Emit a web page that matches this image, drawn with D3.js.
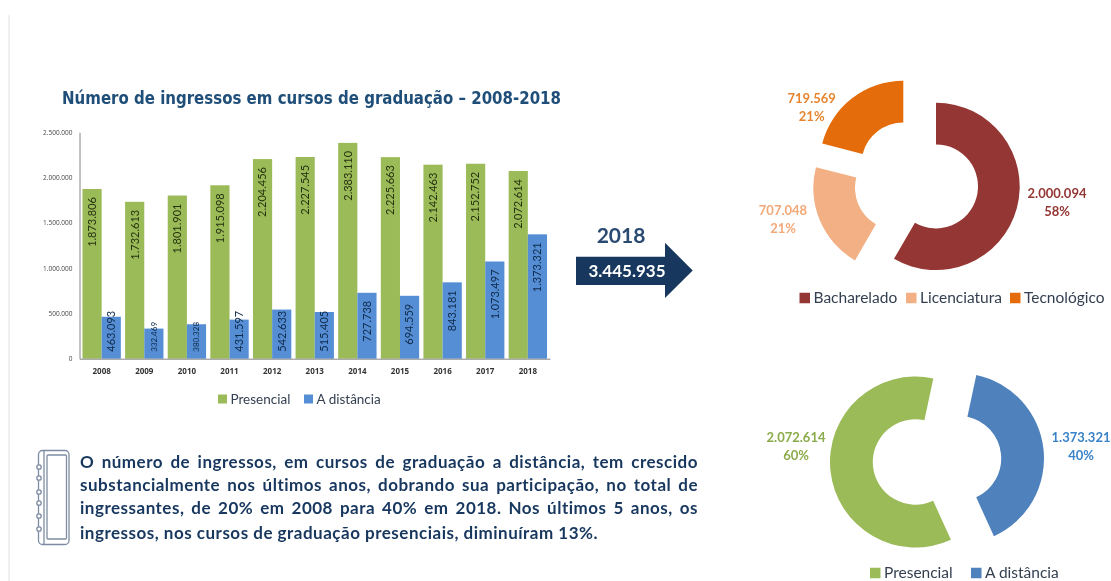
<!DOCTYPE html>
<html>
<head>
<meta charset="utf-8">
<script src="https://cdn.jsdelivr.net/npm/d3@7"></script>
<style>
html, body { margin: 0; padding: 0; background: #fff; }
svg { display: block; filter: blur(0.35px); }
text { font-family: Lato, "Open Sans", sans-serif; }
</style>
</head>
<body>
<svg id="box1" width="1111" height="581"></svg>
<script>
var years = ["2008","2009","2010","2011","2012","2013","2014","2015","2016","2017","2018"];
var presencial = [1873806,1732613,1801901,1915098,2204456,2227545,2383110,2225663,2142463,2152752,2072614];
var distancia = [463093,332469,380328,431597,542633,515405,727738,694559,843181,1073497,1373321];
var yTicks = [0,500000,1000000,1500000,2000000,2500000];
var seriesNames = ["Presencial","A distância"];

var tipoNames = ["Bacharelado","Licenciatura","Tecnológico"];
var tipoValues = [2000094,707048,719569];
var modoNames = ["Presencial","A distância"];
var modoValues = [2072614,1373321];
var totalLabel = "3.445.935";

var textLines = [
  "O número de ingressos, em cursos de graduação a distância, tem crescido",
  "substancialmente nos últimos anos, dobrando sua participação, no total de",
  "ingressantes, de 20% em 2008 para 40% em 2018. Nos últimos 5 anos, os",
  "ingressos, nos cursos de graduação presenciais, diminuíram 13%."
];

var svg = d3.select("#box1");
var navy = "#1f4e79", dark = "#17375e";
var green = "#9bbb59", blue = "#558ed5";
var ptBR = d3.formatLocale({decimal: ",", thousands: ".", grouping: [3], currency: ["R$",""]});
var num = ptBR.format(",d");

svg.append("line").attr("x1", 9).attr("x2", 9).attr("y1", 15).attr("y2", 581)
  .attr("stroke", "#f0f0f0").attr("stroke-width", 2);

// title
svg.append("text")
  .attr("x", 62).attr("y", 104)
  .attr("textLength", 499).attr("lengthAdjust", "spacingAndGlyphs")
  .style("font-family", "'DejaVu Sans'").style("font-weight", "bold").style("font-size", "17.5px")
  .attr("fill", navy)
  .text("Número de ingressos em cursos de graduação – 2008-2018");

// bar chart
var x = d3.scaleBand().domain(years).range([79.5, 550]).paddingInner(0.1).paddingOuter(0.07);
var y = d3.scaleLinear().domain([0, 2500000]).range([358.7, 132.3]);
var inner = d3.scaleBand().domain(seriesNames).range([0, x.bandwidth()]);

var yAxis = d3.axisLeft(y).tickValues(yTicks).tickFormat(num).tickSize(0).tickPadding(7);
var gy = svg.append("g").attr("transform", "translate(79.5,0)").call(yAxis);
gy.select(".domain").attr("stroke", "#868686");
gy.selectAll("text").style("font-size", "6.5px").style("font-family", "'Open Sans'").attr("fill", "#444");

svg.selectAll(".b1").data(years).enter().append("rect")
  .attr("class", "b1")
  .attr("x", function(d) { return x(d) + inner(seriesNames[0]); })
  .attr("width", inner.bandwidth())
  .attr("y", function(d, i) { return y(presencial[i]); })
  .attr("height", function(d, i) { return y(0) - y(presencial[i]); })
  .attr("fill", green);

svg.selectAll(".b2").data(years).enter().append("rect")
  .attr("class", "b2")
  .attr("x", function(d) { return x(d) + inner(seriesNames[1]); })
  .attr("width", inner.bandwidth())
  .attr("y", function(d, i) { return y(distancia[i]); })
  .attr("height", function(d, i) { return y(0) - y(distancia[i]); })
  .attr("fill", blue);

var xAxis = d3.axisBottom(x).tickSize(0).tickPadding(10);
var gx = svg.append("g").attr("transform", "translate(0,358.7)").call(xAxis);
gx.select(".domain").attr("stroke", "#868686");
gx.selectAll("text").style("font-size", "8px").style("font-weight", "bold")
  .style("font-family", "'Open Sans'").attr("fill", "#333");

svg.selectAll(".l1").data(years).enter().append("text")
  .attr("class", "l1")
  .attr("transform", function(d, i) {
    return "translate(" + (x(d) + inner.bandwidth() / 2) + "," + (y(presencial[i]) + 8) + ") rotate(-90)";
  })
  .attr("text-anchor", "end").attr("dy", "0.35em")
  .style("font-size", "11px").attr("fill", "#26330f")
  .text(function(d, i) { return num(presencial[i]); });

svg.selectAll(".l2").data(years).enter().append("text")
  .attr("class", "l2")
  .attr("transform", function(d, i) {
    var cx = x(d) + inner(seriesNames[1]) + inner.bandwidth() / 2;
    // short bars keep the label at the base, tall ones at the top
    var py = distancia[i] < 600000 ? y(0) - 7 : y(distancia[i]) + 8;
    return "translate(" + cx + "," + py + ") rotate(-90)";
  })
  .attr("text-anchor", function(d, i) { return distancia[i] < 600000 ? "start" : "end"; })
  .attr("dy", "0.35em")
  .style("font-size", function(d, i) { return distancia[i] < 400000 ? "8px" : "11px"; })
  .attr("fill", "#0f2a4a")
  .text(function(d, i) { return num(distancia[i]); });

function legend(items, colors, xs, ly, size, fs) {
  items.forEach(function(name, i) {
    svg.append("rect").attr("x", xs[i]).attr("y", ly - size / 2).attr("width", size).attr("height", size)
      .attr("fill", colors[i]);
    svg.append("text").attr("x", xs[i] + size + 3.5).attr("y", ly).attr("dy", "0.35em")
      .style("font-size", fs + "px").attr("fill", "#333f50").text(name);
  });
}
legend(seriesNames, [green, blue], [218, 304], 399, 9, 13.5);

// paragraph, stretched line by line like the justified original
var para = svg.append("g").attr("fill", dark);
textLines.forEach(function(line, i) {
  var t = para.append("text").attr("x", 80).attr("y", [468, 491, 514, 539][i])
    .style("font-size", "17px").style("font-weight", "bold").style("letter-spacing", "0.5px").text(line);
  if (i < 3) {
    var gaps = line.split(" ").length - 1;
    var extra = (618 - t.node().getComputedTextLength()) / gaps;
    t.style("word-spacing", extra + "px");
  }
});

// notebook icon
var icon = svg.append("g").attr("fill", "none").attr("stroke", "#7d8ca3").attr("stroke-width", 1.3);
icon.append("rect").attr("x", 38.5).attr("y", 450.5).attr("width", 30.5).attr("height", 94).attr("rx", 4);
icon.append("rect").attr("x", 47).attr("y", 455).attr("width", 19.5).attr("height", 84).attr("rx", 1);
icon.append("line").attr("x1", 44).attr("x2", 44).attr("y1", 451).attr("y2", 544);
icon.selectAll("circle").data([467, 478, 492, 503, 516, 529]).enter().append("circle")
  .attr("cx", 39).attr("cy", function(d) { return d; }).attr("r", 2.2).attr("fill", "#fff");

// arrow with the 2018 total
var arrow = d3.path();
arrow.moveTo(576, 256.7); arrow.lineTo(665, 256.7); arrow.lineTo(665, 242.7); arrow.lineTo(692.7, 270.5);
arrow.lineTo(665, 298); arrow.lineTo(665, 285); arrow.lineTo(576, 285); arrow.closePath();
svg.append("path").attr("d", arrow.toString()).attr("fill", dark);
svg.append("text").attr("x", 621).attr("y", 236).attr("dy", "0.35em").attr("text-anchor", "middle")
  .style("font-size", "21px").style("font-weight", "bold").attr("fill", "#2a4a72").text("2018");
svg.append("text").attr("x", 627).attr("y", 271).attr("dy", "0.35em").attr("text-anchor", "middle")
  .style("font-size", "17px").style("font-weight", "bold").attr("fill", "#fff").text(totalLabel);

// donuts, each slice pulled out by hand as in the original
function donut(names, values, colors, r0, r1, start, centers, labels) {
  var pie = d3.pie().sort(null).startAngle(start).endAngle(start + 2 * Math.PI);
  var arc = d3.arc().innerRadius(r0).outerRadius(r1);
  var total = d3.sum(values);
  pie(values).forEach(function(s, i) {
    svg.append("path").attr("d", arc(s)).attr("fill", colors[i])
      .attr("transform", "translate(" + centers[i] + ")");
    var t = svg.append("text").attr("text-anchor", "middle")
      .style("font-size", "13px").style("font-weight", "bold").attr("fill", labels[i][2]);
    t.append("tspan").attr("x", labels[i][0]).attr("y", labels[i][1]).text(num(values[i]));
    t.append("tspan").attr("x", labels[i][0]).attr("y", labels[i][1] + 18).text(Math.round(values[i] / total * 100) + "%");
  });
}

donut(tipoNames, tipoValues, ["#943634", "#f2b084", "#e46c0a"], 42, 83.7, 0,
  [[936, 186.4], [897, 188], [903.3, 164.4]],
  [[1057, 198, "#943634"], [783, 215, "#f2a878"], [811.7, 103, "#e8852e"]]);
legend(tipoNames, ["#943634", "#f2b084", "#e46c0a"], [799.5, 906, 1010], 298, 10.5, 15.5);

donut(modoNames, modoValues, ["#9bbb59", "#4f81bd"], 42.7, 85.5, 155.5 * Math.PI / 180,
  [[915.5, 462], [958.5, 458.5]],
  [[796, 441.5, "#8aab4a"], [1081, 441.5, "#3a83c8"]]);
legend(modoNames, ["#9bbb59", "#4f81bd"], [870, 971], 573, 10.5, 15.5);
</script>
</body>
</html>
